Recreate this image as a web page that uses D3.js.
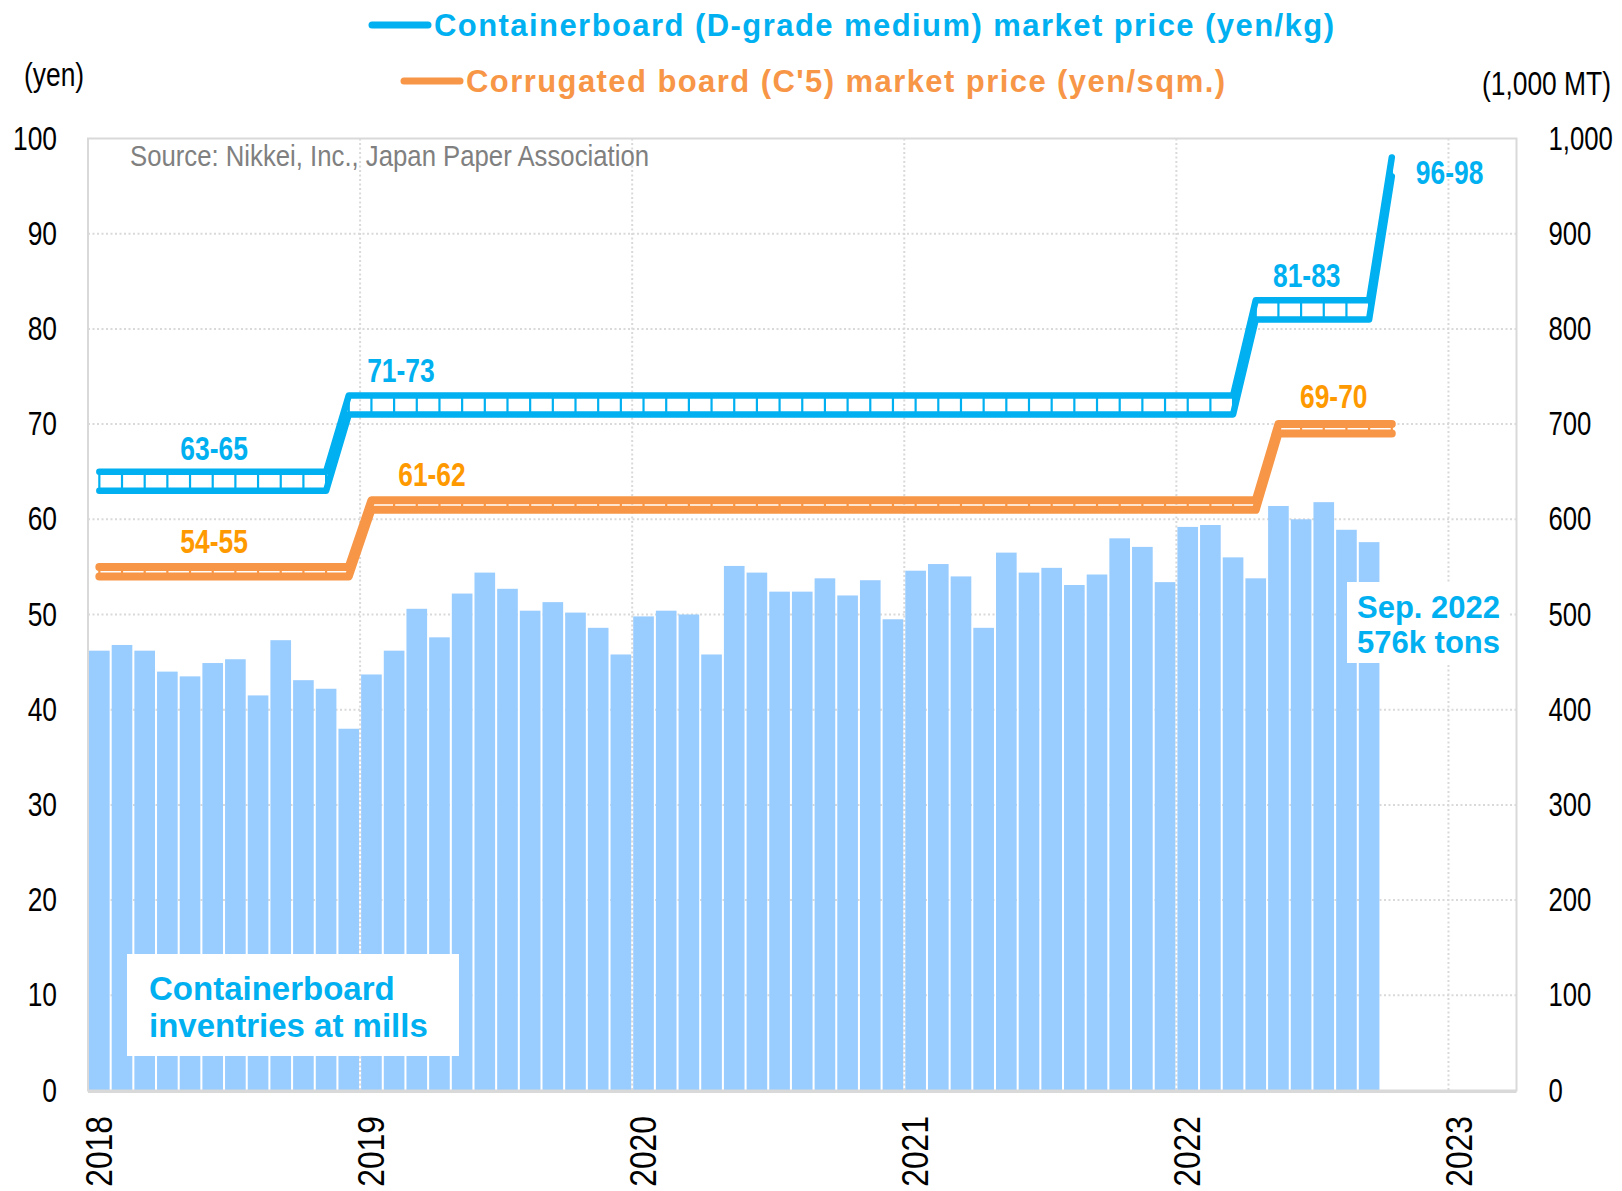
<!DOCTYPE html>
<html>
<head>
<meta charset="utf-8">
<script src="https://cdn.jsdelivr.net/npm/d3@7"></script>
<style>
  html, body { margin: 0; padding: 0; background: #fff; }
  svg { display: block; }
</style>
</head>
<body>
<div id="chart"></div>
<script>
// monthly inventories (1,000 MT), Jan 2018 .. Sep 2022
const inventory = [
  462, 468, 462, 440, 435, 449, 453, 415, 473, 431, 422, 380,
  437, 462, 506, 476, 522, 544, 527, 504, 513, 502, 486, 458,
  498, 504, 500, 458, 551, 544, 524, 524, 538, 520, 536, 495,
  546, 553, 540, 486, 565, 544, 549, 531, 542, 580, 571, 534,
  592, 594, 560, 538, 614, 600, 618, 589, 576
];

// market prices per month, Jan 2018 .. Oct 2022
const boardLow = [
  63, 63, 63, 63, 63, 63, 63, 63, 63, 63, 63, 71,
  71, 71, 71, 71, 71, 71, 71, 71, 71, 71, 71, 71,
  71, 71, 71, 71, 71, 71, 71, 71, 71, 71, 71, 71,
  71, 71, 71, 71, 71, 71, 71, 71, 71, 71, 71, 71,
  71, 71, 71, 81, 81, 81, 81, 81, 81, 96
];
const boardHigh = [
  65, 65, 65, 65, 65, 65, 65, 65, 65, 65, 65, 73,
  73, 73, 73, 73, 73, 73, 73, 73, 73, 73, 73, 73,
  73, 73, 73, 73, 73, 73, 73, 73, 73, 73, 73, 73,
  73, 73, 73, 73, 73, 73, 73, 73, 73, 73, 73, 73,
  73, 73, 73, 83, 83, 83, 83, 83, 83, 98
];
const corrLow = [
  54, 54, 54, 54, 54, 54, 54, 54, 54, 54, 54, 54,
  61, 61, 61, 61, 61, 61, 61, 61, 61, 61, 61, 61,
  61, 61, 61, 61, 61, 61, 61, 61, 61, 61, 61, 61,
  61, 61, 61, 61, 61, 61, 61, 61, 61, 61, 61, 61,
  61, 61, 61, 61, 69, 69, 69, 69, 69, 69
];
const corrHigh = [
  55, 55, 55, 55, 55, 55, 55, 55, 55, 55, 55, 55,
  62, 62, 62, 62, 62, 62, 62, 62, 62, 62, 62, 62,
  62, 62, 62, 62, 62, 62, 62, 62, 62, 62, 62, 62,
  62, 62, 62, 62, 62, 62, 62, 62, 62, 62, 62, 62,
  62, 62, 62, 62, 70, 70, 70, 70, 70, 70
];

const years = [2018, 2019, 2020, 2021, 2022, 2023];
const leftTicks = [0, 10, 20, 30, 40, 50, 60, 70, 80, 90, 100];
const rightTicks = [0, 100, 200, 300, 400, 500, 600, 700, 800, 900, 1000];

const legendItems = [
  "Containerboard (D-grade medium) market price (yen/kg)",
  "Corrugated board (C'5) market price (yen/sqm.)"
];

// range labels: text, month, price
const rangeLabels = [
  { text: "63-65", m: 5.56, v: 67.5, s: "board" },
  { text: "71-73", m: 13.8, v: 75.7, s: "board" },
  { text: "81-83", m: 53.75, v: 85.6, s: "board" },
  { text: "96-98", m: 60.05, v: 96.5, s: "board", nobox: true },
  { text: "54-55", m: 5.56, v: 57.7, s: "corr" },
  { text: "61-62", m: 15.17, v: 64.7, s: "corr" },
  { text: "69-70", m: 54.94, v: 72.9, s: "corr" }
];

const BLUE = "#00B0F0";
const ORANGE = "#F79646";
const ORANGE_TXT = "#FF9900";
const BAR = "#99CCFF";
const GRID = "#D9D9D9";
const FONT = "'Liberation Sans', Arial, sans-serif";

const width = 1622, height = 1191;
const plot = { left: 88, right: 1516.5, top: 138.5, bottom: 1090.5 };

// no narrow face installed: squeeze the glyphs instead
function squeeze(sel, k) {
  sel.each(function() {
    const len = this.getComputedTextLength();
    this.setAttribute("textLength", len * k);
    this.setAttribute("lengthAdjust", "spacingAndGlyphs");
  });
}

const svg = d3.select("#chart").append("svg")
  .attr("width", width)
  .attr("height", height)
  .style("font-family", FONT);

const x = d3.scaleLinear().domain([0, 63]).range([plot.left, plot.right]);
const y = d3.scaleLinear().domain([0, 100]).range([plot.bottom, plot.top]);
const y2 = d3.scaleLinear().domain([0, 1000]).range([plot.bottom, plot.top]);

// grid
const grid = svg.append("g");
grid.selectAll(".hg")
  .data(leftTicks.filter(d => d > 0 && d < 100))
  .enter().append("line")
  .attr("x1", plot.left).attr("x2", plot.right)
  .attr("y1", d => y(d)).attr("y2", d => y(d))
  .attr("stroke", GRID).attr("stroke-width", 2)
  .attr("stroke-dasharray", "2,2.5");
grid.selectAll(".vg")
  .data(years.slice(1))
  .enter().append("line")
  .attr("x1", d => x((d - 2018) * 12)).attr("x2", d => x((d - 2018) * 12))
  .attr("y1", plot.top).attr("y2", plot.bottom)
  .attr("stroke", GRID).attr("stroke-width", 2)
  .attr("stroke-dasharray", "2,2.5");

// bars
const band = d3.scaleBand()
  .domain(d3.range(inventory.length))
  .range([x(0), x(inventory.length)])
  .paddingInner(0.09)
  .paddingOuter(0.045);

svg.append("g").selectAll("rect")
  .data(inventory)
  .enter().append("rect")
  .attr("x", (d, i) => band(i))
  .attr("width", band.bandwidth())
  .attr("y", d => y2(d))
  .attr("height", d => plot.bottom - y2(d))
  .attr("fill", BAR);

// annotation boxes
const inv = svg.append("g")
  .style("font-weight", "bold").style("font-size", "33px")
  .attr("fill", BLUE);
inv.append("rect")
  .attr("x", 127).attr("y", 954).attr("width", 332).attr("height", 102)
  .attr("fill", "#fff");
inv.append("text").attr("x", 149).attr("y", 1000).text("Containerboard");
inv.append("text").attr("x", 149).attr("y", 1037).text("inventries at mills");

const last = svg.append("g")
  .style("font-weight", "bold").style("font-size", "31px")
  .attr("fill", BLUE);
last.append("rect")
  .attr("x", 1347).attr("y", 582).attr("width", 161).attr("height", 81)
  .attr("fill", "#fff");
last.append("text").attr("x", 1357).attr("y", 618).text("Sep. 2022");
last.append("text").attr("x", 1357).attr("y", 653)
  .text(inventory[inventory.length - 1] + "k tons");

// source
svg.append("text")
  .attr("x", 130).attr("y", 166)
  .style("font-size", "29px")
  .attr("fill", "#808080")
  .attr("textLength", 519).attr("lengthAdjust", "spacingAndGlyphs")
  .text("Source: Nikkei, Inc., Japan Paper Association");

// range labels, with white boxes that hide the gridlines
const labelG = svg.append("g");
rangeLabels.forEach(l => {
  const t = labelG.append("text")
    .attr("x", x(l.m)).attr("y", y(l.v)).attr("dy", "0.36em")
    .attr("text-anchor", "middle")
    .style("font-weight", "bold").style("font-size", "33px")
    .attr("fill", l.s === "board" ? BLUE : ORANGE_TXT)
    .text(l.text);
  squeeze(t, 0.8);
  if (!l.nobox) {
    const b = t.node().getBBox();
    labelG.insert("rect", "text")
      .attr("x", b.x - 4).attr("y", b.y + 2)
      .attr("width", b.width + 8).attr("height", b.height + 4)
      .attr("fill", "#fff");
  }
});

// price ranges: low and high lines joined by a tick each month
function drawRange(low, high, color, w) {
  const g = svg.append("g");
  const idx = d3.range(low.length);
  g.selectAll("line")
    .data(idx)
    .enter().append("line")
    .attr("x1", i => x(i + 0.5)).attr("x2", i => x(i + 0.5))
    .attr("y1", i => y(low[i])).attr("y2", i => y(high[i]))
    .attr("stroke", color).attr("stroke-width", 2.2);
  const line = d3.line().x(i => x(i + 0.5));
  [low, high].forEach(arr => {
    g.append("path")
      .attr("d", line.y(i => y(arr[i]))(idx))
      .attr("fill", "none")
      .attr("stroke", color)
      .attr("stroke-width", w)
      .attr("stroke-linejoin", "round")
      .attr("stroke-linecap", "round");
  });
}
drawRange(corrLow, corrHigh, ORANGE, 8);
drawRange(boardLow, boardHigh, BLUE, 6.5);

// plot border
svg.append("rect")
  .attr("x", plot.left).attr("y", plot.top)
  .attr("width", plot.right - plot.left).attr("height", plot.bottom - plot.top)
  .attr("fill", "none").attr("stroke", GRID).attr("stroke-width", 2);
svg.append("line")
  .attr("x1", plot.left).attr("x2", plot.right)
  .attr("y1", plot.bottom + 1).attr("y2", plot.bottom + 1)
  .attr("stroke", GRID).attr("stroke-width", 3);

// axes
const leftAxis = svg.append("g")
  .attr("transform", `translate(${plot.left},0)`)
  .call(d3.axisLeft(y).tickValues(leftTicks).tickSize(0).tickPadding(31));
leftAxis.select(".domain").remove();
const leftText = leftAxis.selectAll("text")
  .attr("font-family", FONT).attr("font-size", 33)
  .attr("fill", "#000");
squeeze(leftText, 0.8);

// right side: scale by transform so the boxes stay inside the page
const rightAxis = svg.append("g")
  .attr("transform", `translate(${plot.right},0)`)
  .call(d3.axisRight(y2).tickValues(rightTicks).tickSize(0).tickFormat(d3.format(",")));
rightAxis.select(".domain").remove();
rightAxis.selectAll("text")
  .attr("font-family", FONT).attr("font-size", 33)
  .attr("fill", "#000")
  .attr("x", 0)
  .attr("transform", "translate(32,0) scale(0.78,1)");

const yearText = svg.append("g").selectAll("text")
  .data(years)
  .enter().append("text")
  .attr("transform", d => `translate(${x((d - 2018) * 12) + 24},1116) rotate(-90)`)
  .attr("text-anchor", "end")
  .style("font-size", "37px")
  .attr("fill", "#000")
  .text(d => d);
squeeze(yearText, 0.86);

const unitL = svg.append("text")
  .attr("x", 24).attr("y", 86)
  .style("font-size", "33px")
  .text("(yen)");
squeeze(unitL, 0.8);
svg.append("text")
  .attr("transform", "translate(1611,95) scale(0.8,1)")
  .attr("text-anchor", "end")
  .style("font-size", "33px")
  .text("(1,000 MT)");

// legend
const legend = svg.append("g");
const legendPos = [
  { x: 372, y: 25, color: BLUE, len: 900 },
  { x: 404, y: 81, color: ORANGE, len: 759 }
];
legendItems.forEach((txt, i) => {
  const p = legendPos[i];
  legend.append("line")
    .attr("x1", p.x).attr("x2", p.x + 56)
    .attr("y1", p.y).attr("y2", p.y)
    .attr("stroke", p.color).attr("stroke-width", 7)
    .attr("stroke-linecap", "round");
  legend.append("text")
    .attr("x", p.x + 62).attr("y", p.y).attr("dy", "0.36em")
    .style("font-weight", "bold").style("font-size", "31px")
    .attr("fill", p.color)
    .attr("textLength", p.len).attr("lengthAdjust", "spacing")
    .text(txt);
});
</script>
</body>
</html>
